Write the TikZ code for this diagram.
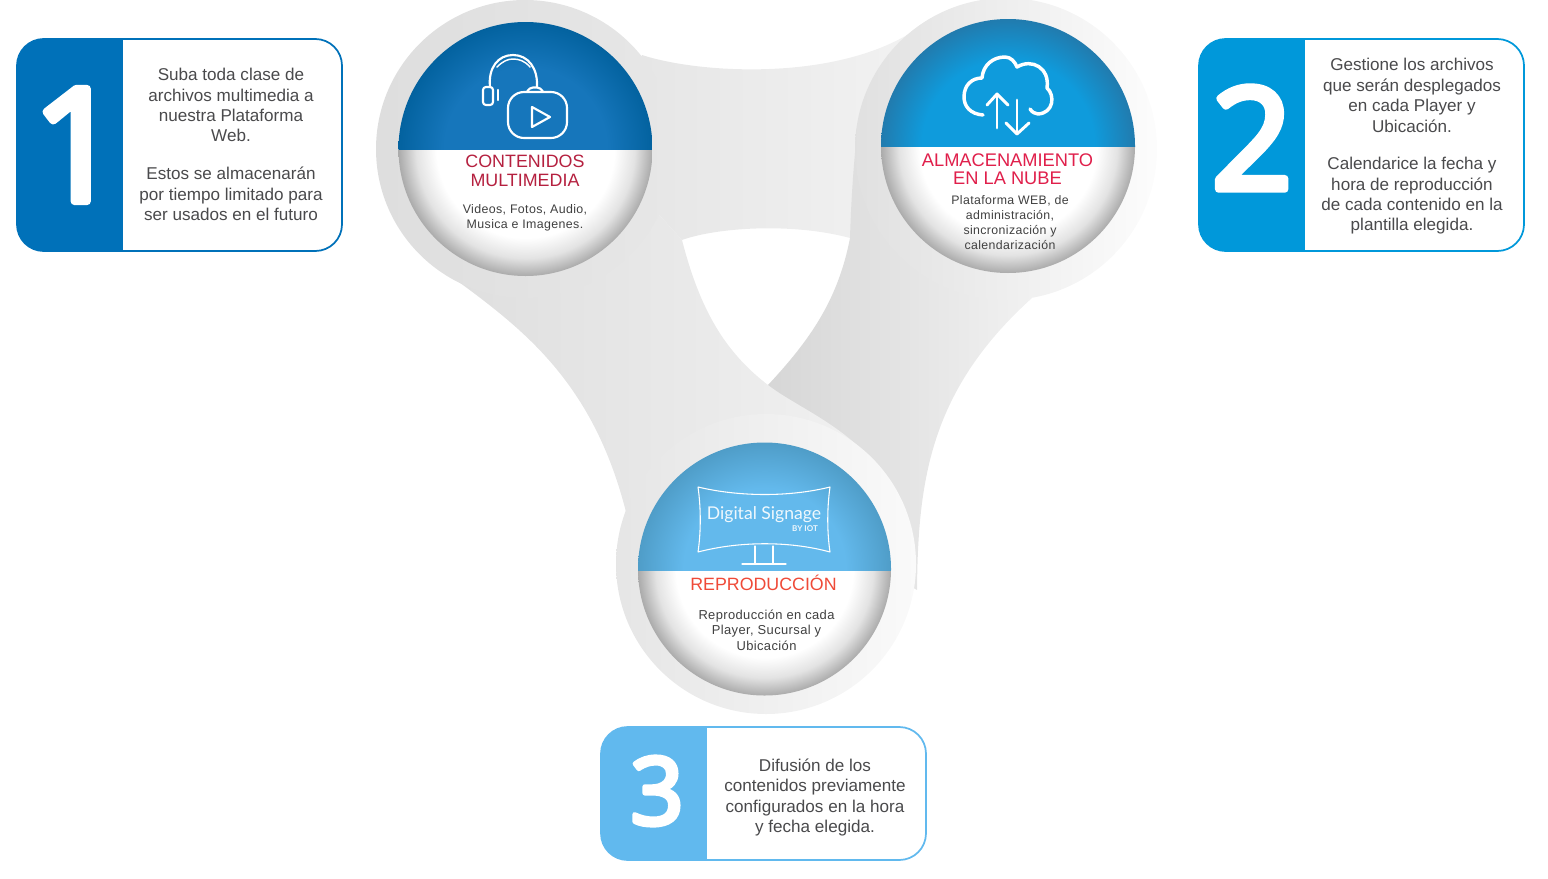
\documentclass[tikz,border=0pt]{standalone}
\usepackage{fontspec}
\setmainfont{Liberation Sans}
\newfontfamily\subfont[LetterSpace=3]{Liberation Sans}
\newfontfamily\digitfont[FakeBold=5]{Open Sans}
\newfontfamily\signfont{Lato}
\definecolor{bluea}{HTML}{0071B9}
\definecolor{blueb}{HTML}{0098DA}
\definecolor{bluec}{HTML}{61B9EE}
\definecolor{bodyc}{HTML}{4A4A4C}
\definecolor{bluetopa}{HTML}{1676BB}\definecolor{bluerima}{HTML}{03629F}
\definecolor{bluetopb}{HTML}{0F9BDC}\definecolor{bluerimb}{HTML}{217BAE}
\definecolor{bluetopc}{HTML}{63B9EC}\definecolor{bluerimc}{HTML}{4F9DC8}
\pgfdeclareradialshading{lowersphere}{\pgfpointorigin}{color(0bp)=(white);color(17.5bp)=(white);color(21.5bp)=(black!11);color(25bp)=(black!33);color(50bp)=(black!33)}
\pgfdeclareradialshading{uppera}{\pgfpointorigin}{color(0bp)=(bluetopa);color(16bp)=(bluetopa);color(25bp)=(bluerima);color(50bp)=(bluerima)}
\pgfdeclareradialshading{upperb}{\pgfpointorigin}{color(0bp)=(bluetopb);color(17bp)=(bluetopb);color(25bp)=(bluerimb);color(50bp)=(bluerimb)}
\pgfdeclareradialshading{upperc}{\pgfpointorigin}{color(0bp)=(bluetopc);color(16bp)=(bluetopc);color(25bp)=(bluerimc);color(50bp)=(bluerimc)}
\tikzset{
  x=0.75pt,y=-0.75pt,
  bodytext/.style={inner sep=0pt,align=center,text=bodyc,font=\fontsize{12.82}{15.3}\selectfont},
  subtext/.style={inner sep=0pt,align=center,text=black!75,font=\subfont\fontsize{9.7}{11.6}\selectfont},
  titletext/.style={inner sep=0pt,align=center,font=\fontsize{13.4}{14}\selectfont},
  digit/.style={inner sep=0pt,text=white,line join=round},
  icon/.style={draw=white,line width=1.6pt,line cap=round,line join=round},
  thinicon/.style={draw=white,line width=0.8pt,line cap=round,line join=round},
}
% #1 x left, #2 y top, #3 x right, #4 y bottom, #5 x divider, #6 colour
\newcommand{\stepcard}[6]{%
  \fill[white,rounded corners=20pt] (#1,#2) rectangle (#3,#4);
  \begin{scope}
    \clip[rounded corners=20pt] (#1,#2) rectangle (#3,#4);
    \fill[#6] (#1,#2) rectangle (#5,#4);
  \end{scope}
  \draw[#6,line width=1.3pt,rounded corners=20pt] (#1,#2) rectangle (#3,#4);
}
% #1 x, #2 y, #3 radius, #4 divider y, #5 upper shading
\newcommand{\sphere}[5]{%
  \begin{scope}
    \clip (#1-#3,#4) rectangle (#1+#3,#2+#3);
    \shade[shading=lowersphere] (#1,#2) circle[radius=#3*0.75pt];
  \end{scope}
  \begin{scope}
    \clip (#1-#3,#2-#3) rectangle (#1+#3,#4);
    \shade[shading=#5] (#1,#2) circle[radius=#3*0.75pt];
  \end{scope}
}
\begin{document}
\begin{tikzpicture}
\useasboundingbox (0,0) rectangle (1548,878);
% background bands
\shade[left color=black!10.5,right color=black!5]
  (642,55) .. controls (700,74) and (840,82) .. (918,28) -- (900,120) -- (850,238)
  .. controls (790,222) and (715,228) .. (682,240) -- (600,150) -- cycle;
\shade[left color=black!16,right color=black!5.5]
  (857,133) .. controls (853,170) and (851,205) .. (850,238)
  .. controls (838,300) and (810,340) .. (768,385) -- (800,520) -- (917,590)
  .. controls (918,480) and (930,390) .. (1032,298) -- (950,180) -- cycle;
\shade[left color=black!13,right color=black!5]
  (433,263) .. controls (510,320) and (590,370) .. (626,512) -- (760,560) -- (893,490)
  .. controls (860,430) and (800,410) .. (768,385)
  .. controls (725,352) and (700,310) .. (682,240) -- (600,150) -- cycle;
% rings
\shade[left color=black!13,right color=black!9.4] (525,149) circle[radius=149*0.75pt];
\shade[left color=black!12,right color=black!1] (1006,149) circle[radius=151*0.75pt];
\shade[left color=black!10,right color=black!2] (766,564) circle[radius=150*0.75pt];
% spheres
\sphere{525.5}{149}{127}{149}{uppera}
\sphere{1008}{146}{127}{146.5}{upperb}
\sphere{764.5}{569}{126.5}{570.5}{upperc}
% headphones + play icon
\draw[icon] (490,87) .. controls (488,68) and (498,55) .. (513,55) .. controls (528,55) and (538,68) .. (537,87);
\draw[icon,line width=1.1pt] (497,67) .. controls (503,61) and (508,59) .. (513,59) .. controls (519,59) and (525,61) .. (530,67);
\draw[icon,rounded corners=2.2pt] (483,87) rectangle (493,105);
\draw[icon] (498,90) -- (498,100);
\draw[icon,rounded corners=3pt] (527,92) -- (529,87.5) -- (541,87.5) -- (543,92);
\draw[icon,rounded corners=12pt] (508,92) rectangle (567,138);
\draw[icon] (532,107) -- (550,117) -- (532,127) -- cycle;
% cloud icon
\draw[icon,line width=2.6pt] (983,115) .. controls (970,114) and (964,106) .. (964,97)
  .. controls (964,85) and (972,78) .. (982,78)
  .. controls (983,65) and (993,57) .. (1005,57)
  .. controls (1011,57) and (1015,62) .. (1017,67)
  .. controls (1032,58) and (1050,68) .. (1047,88)
  .. controls (1055,95) and (1054,113) .. (1038,114)
  .. controls (1035,114) and (1032,112) .. (1030,109);
\draw[icon,line width=2.2pt] (997,128) -- (997,94);
\draw[icon,line width=2.2pt] (987,105) -- (997,94) -- (1008,105);
\draw[icon,line width=2.2pt] (1017,100) -- (1017,134);
\draw[icon,line width=2.2pt] (1006,123) -- (1017,134) -- (1029,123);
% monitor icon
\draw[thinicon] (698,487) .. controls (740,497) and (790,497) .. (830,487)
  .. controls (827,508) and (827,532) .. (830,552)
  .. controls (790,541) and (740,541) .. (698,552)
  .. controls (701,532) and (701,508) .. (698,487) -- cycle;
\draw[thinicon] (755,546) -- (755,564) (773,546) -- (773,564) (742,564) -- (786,564);
\node[inner sep=0pt,text=white!90!bluec,font=\signfont\fontsize{13.2}{13}\selectfont] (signname) at (764,515) {Digital Signage};
\node[inner sep=0pt,text=white!90!bluec,font=\signfont\bfseries\fontsize{6}{6}\selectfont] (signby) at (805,529) {BY IOT};
% sphere titles and text
\node[titletext,text={rgb,255:red,181;green,32;blue,63}] (titleone) at (525,171) {CONTENIDOS\\MULTIMEDIA};
\node[subtext,font=\subfont\fontsize{9.3}{11.6}\selectfont] (subone) at (525,218) {Videos, Fotos, Audio,\\Musica e Imagenes.};
\node[titletext,text={rgb,255:red,224;green,31;blue,75},font=\fontsize{13.7}{13.5}\selectfont] (titletwo) at (1007.5,169) {ALMACENAMIENTO\\EN LA NUBE};
\node[subtext,font=\subfont\fontsize{9.25}{11.4}\selectfont] (subtwo) at (1010,222.5) {Plataforma WEB, de\\administración,\\sincronización y\\calendarización};
\node[titletext,text={rgb,255:red,239;green,74;blue,56},font=\fontsize{13.35}{14}\selectfont] (titlethree) at (763.5,583) {REPRODUCCIÓN};
\node[subtext] (subthree) at (766.5,630) {Reproducción en cada\\Player, Sucursal y\\Ubicación};
% step cards
\stepcard{17}{39}{342}{251}{123}{bluea}
\stepcard{1199}{39}{1524}{251}{1305}{blueb}
\stepcard{601}{727}{926}{860}{707}{bluec}
\node[digit,font=\digitfont\fontsize{118}{118}\selectfont] (digitone) at (77,145) {1};
\node[digit,font=\digitfont\fontsize{106}{106}\selectfont] (digittwo) at (1252,138) {2};
\node[digit,font=\digitfont\fontsize{70}{70}\selectfont] (digitthree) at (657,791) {3};
\node[bodytext] (textone) at (231,144.5) {Suba toda clase de\\archivos multimedia a\\nuestra Plataforma\\Web.\\[13pt]Estos se almacenarán\\por tiempo limitado para\\ser usados en el futuro};
\node[bodytext] (texttwo) at (1412,146.5) {Gestione los archivos\\que serán desplegados\\en cada Player y\\Ubicación.\\[13pt]Calendarice la fecha y\\hora de reproducción\\de cada contenido en la\\plantilla elegida.};
\node[bodytext] (textthree) at (815,797.5) {Difusión de los\\contenidos previamente\\configurados en la hora\\y fecha elegida.};
\end{tikzpicture}
\end{document}
